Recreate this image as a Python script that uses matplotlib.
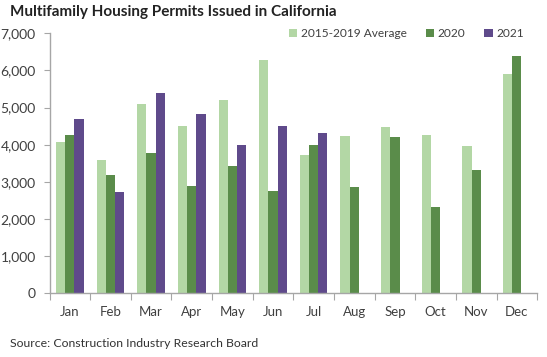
import numpy as np
import matplotlib
matplotlib.use("Agg")
import matplotlib.pyplot as plt

months = ["Jan", "Feb", "Mar", "Apr", "May", "Jun", "Jul", "Aug", "Sep", "Oct", "Nov", "Dec"]
avg_2015_2019 = [4070, 3590, 5095, 4505, 5205, 6280, 3725, 4225, 4490, 4260, 3965, 5905]
permits_2020 = [4260, 3185, 3770, 2900, 3430, 2745, 3985, 2855, 4200, 2335, 3320, 6400]
permits_2021 = [4685, 2730, 5385, 4820, 3995, 4505, 4310]

plt.rcParams['font.family'] = ['Lato', 'DejaVu Sans']

fig = plt.figure(figsize=(5.47, 3.57), dpi=100)
ax = fig.add_axes([0.0905, 0.1785, 0.8915, 0.7282])

x = np.arange(len(months))
w = 0.227
ax.bar(x - w, avg_2015_2019, w, color='#B3D7A5', label='2015-2019 Average')
ax.bar(x, permits_2020, w, color='#5A8C4A', label='2020')
ax.bar(np.arange(len(permits_2021)) + w, permits_2021, w, color='#5F4A8B', label='2021')

ax.set_xlim(-0.5, 11.5)
ax.set_ylim(0, 7000)
ax.set_yticks(range(0, 7001, 1000))
ax.set_yticklabels([f"{v:,}" for v in range(0, 7001, 1000)])

# tick marks between categories, labels in the middle
ax.set_xticks(np.arange(-0.5, 12, 1))
ax.set_xticklabels([])
ax.set_xticks(x, minor=True)
ax.set_xticklabels(months, minor=True)
ax.tick_params(axis='x', which='major', length=5, color='#A6A6A6', direction='out')
ax.tick_params(axis='x', which='minor', length=0, pad=9, labelsize=9.5, labelcolor='#404040')
ax.tick_params(axis='y', length=4, color='#A6A6A6', labelsize=10, labelcolor='#404040', pad=6)

for s in ['top', 'right']:
    ax.spines[s].set_visible(False)
for s in ['left', 'bottom']:
    ax.spines[s].set_color('#A6A6A6')
    ax.spines[s].set_linewidth(1)

ax.legend(loc='upper right', bbox_to_anchor=(0.995, 1.06), ncol=3, frameon=False,
          fontsize=8.6, handlelength=0.7, handleheight=0.7, handletextpad=0.3,
          columnspacing=1.6, labelcolor='#404040')

fig.text(0.018, 0.965, "Multifamily Housing Permits Issued in California",
         fontsize=11, fontweight='bold', color='#222222', va='center')
fig.text(0.018, 0.038, "Source: Construction Industry Research Board",
         fontsize=8.8, color='#333333', va='center')

fig.savefig("out.png", dpi=100)
